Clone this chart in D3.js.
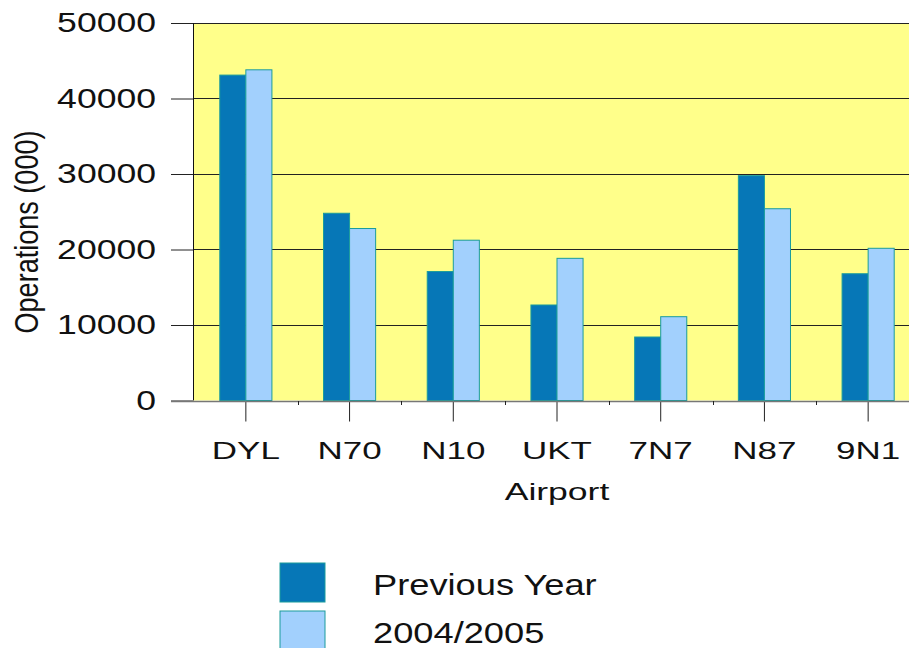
<!DOCTYPE html>
<html>
<head>
<meta charset="utf-8">
<script src="https://cdn.jsdelivr.net/npm/d3@7"></script>
<style>
  html, body { margin: 0; padding: 0; background: #fff; }
  svg { display: block; font-family: 'Liberation Sans', Arial, sans-serif; }
</style>
</head>
<body>
<div id="chart"></div>
<script>
// data
const airports = ['DYL', 'N70', 'N10', 'UKT', '7N7', 'N87', '9N1'];
const seriesNames = ['Previous Year', '2004/2005'];
const previousYear = [43100, 24800, 17080, 12650, 8410, 29780, 16790];
const year2004 = [43800, 22780, 21230, 18830, 11100, 25400, 20160];
const yTicks = [0, 10000, 20000, 30000, 40000, 50000];

const colors = ['#0677b7', '#a2d0fd'];
const barStroke = '#1a9c9c';

const width = 909, height = 648;

const svg = d3.select('#chart')
    .append('svg')
    .attr('width', width)
    .attr('height', height);

// stretch text horizontally like the original export
function stretch(sel, factor) {
    sel.each(function () {
        const len = this.getComputedTextLength();
        d3.select(this)
            .attr('textLength', len * factor)
            .attr('lengthAdjust', 'spacingAndGlyphs');
    });
}

const xScale = d3.scaleBand()
    .domain(airports)
    .range([194, 920])
    .paddingInner(0)
    .paddingOuter(0);

const xSub = d3.scaleBand()
    .domain(seriesNames)
    .range([0, xScale.bandwidth()])
    .paddingInner(0)
    .paddingOuter(0.99);

const yScale = d3.scaleLinear()
    .domain([0, 50000])
    .range([400.5, 23]);

// plot background
svg.append('rect')
    .attr('x', 193)
    .attr('y', yScale(50000))
    .attr('width', width - 193)
    .attr('height', yScale(0) - yScale(50000))
    .attr('fill', '#ffff8a');

// gridlines + outer ticks
const yAxis = d3.axisLeft(yScale)
    .tickValues(yTicks)
    .tickSize(22)
    .tickPadding(15)
    .tickFormat(d3.format('d'));

const gy = svg.append('g')
    .attr('transform', 'translate(193,0)')
    .call(yAxis);
gy.select('.domain').remove();
gy.selectAll('.tick line').attr('stroke', '#222');
gy.selectAll('.tick text')
    .attr('fill', '#111')
    .style('font-size', '28px')
    .call(stretch, 1.27);

svg.append('g')
    .selectAll('line')
    .data(yTicks.filter(d => d > 0))
    .enter()
    .append('line')
    .attr('x1', 193)
    .attr('x2', width)
    .attr('y1', d => Math.round(yScale(d)) + 0.5)
    .attr('y2', d => Math.round(yScale(d)) + 0.5)
    .attr('stroke', '#222')
    .attr('stroke-width', 1.2);

// bars
const groups = svg.append('g')
    .selectAll('g')
    .data(airports)
    .enter()
    .append('g')
    .attr('transform', d => `translate(${xScale(d)},0)`);

groups.selectAll('rect')
    .data((d, i) => [previousYear[i], year2004[i]].map((v, j) => ({ name: seriesNames[j], value: v, j })))
    .enter()
    .append('rect')
    .attr('x', d => xSub(d.name))
    .attr('y', d => yScale(d.value))
    .attr('width', xSub.bandwidth())
    .attr('height', d => yScale(0) - yScale(d.value))
    .attr('fill', d => colors[d.j])
    .attr('stroke', barStroke)
    .attr('stroke-width', 1);

// left axis line
svg.append('line')
    .attr('x1', 193.5).attr('x2', 193.5)
    .attr('y1', yScale(50000)).attr('y2', yScale(0))
    .attr('stroke', '#111');

// bottom axis
const xAxis = d3.axisBottom(xScale)
    .tickSize(20)
    .tickSizeOuter(0)
    .tickFormat('');

const gx = svg.append('g')
    .attr('transform', `translate(0,${Math.round(yScale(0)) + 0.5})`)
    .call(xAxis);
gx.select('.domain').remove();
gx.selectAll('.tick line').attr('stroke', '#222');

svg.append('line')
    .attr('x1', 171).attr('x2', width)
    .attr('y1', Math.round(yScale(0)) + 0.5)
    .attr('y2', Math.round(yScale(0)) + 0.5)
    .attr('stroke', '#777')
    .attr('stroke-width', 1.5);

// short ticks between categories
svg.append('g')
    .selectAll('line')
    .data(airports.slice(1))
    .enter()
    .append('line')
    .attr('x1', d => Math.round(xScale(d)) + 0.5)
    .attr('x2', d => Math.round(xScale(d)) + 0.5)
    .attr('y1', Math.round(yScale(0)))
    .attr('y2', Math.round(yScale(0)) + 4)
    .attr('stroke', '#222');

// category labels
svg.append('g')
    .selectAll('text')
    .data(airports)
    .enter()
    .append('text')
    .attr('x', d => xScale(d) + xScale.bandwidth() / 2)
    .attr('y', 459)
    .attr('text-anchor', 'middle')
    .attr('fill', '#111')
    .style('font-size', '23px')
    .text(d => d)
    .call(stretch, 1.52);

// axis titles
svg.append('text')
    .attr('x', (xScale.range()[0] + xScale.range()[1]) / 2)
    .attr('y', 500)
    .attr('text-anchor', 'middle')
    .attr('fill', '#111')
    .style('font-size', '24px')
    .text('Airport')
    .call(stretch, 1.48);

svg.append('text')
    .attr('transform', 'translate(38,232) rotate(-90)')
    .attr('text-anchor', 'middle')
    .attr('fill', '#111')
    .style('font-size', '33px')
    .attr('textLength', 203)
    .attr('lengthAdjust', 'spacingAndGlyphs')
    .text('Operations (000)');

// legend
const legend = svg.append('g')
    .selectAll('g')
    .data(seriesNames)
    .enter()
    .append('g')
    .attr('transform', (d, i) => `translate(280,${563 + i * 48})`);

legend.append('rect')
    .attr('width', 45)
    .attr('height', 39)
    .attr('fill', (d, i) => colors[i])
    .attr('stroke', barStroke)
    .attr('stroke-width', 1);

legend.append('text')
    .attr('x', 93)
    .attr('y', (d, i) => 32 + i * 0)
    .attr('fill', '#111')
    .style('font-size', '29px')
    .text(d => d)
    .call(stretch, 1.25);
</script>
</body>
</html>
